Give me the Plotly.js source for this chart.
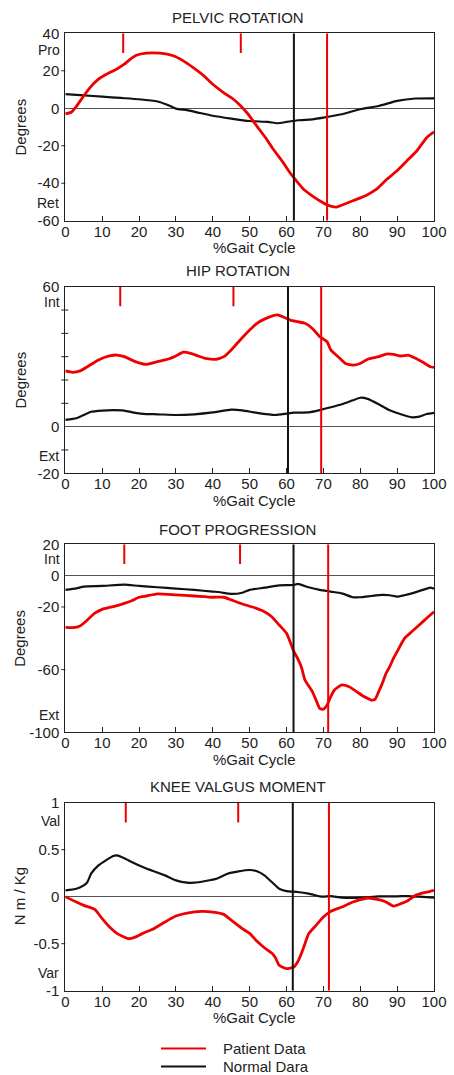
<!DOCTYPE html>
<html>
<head>
<meta charset="utf-8">
<script src="https://cdn.plot.ly/plotly-3.0.1.min.js"></script>
<style>
  html, body { margin: 0; padding: 0; background: #fff; }
  #chart { width: 454px; height: 1075px; }
</style>
</head>
<body>
<div id="chart"></div>
<script>
// ---------- Series names ----------
const seriesNames = ['Patient Data', 'Normal Dara'];
const panelTitles = ['PELVIC ROTATION', 'HIP ROTATION', 'FOOT PROGRESSION', 'KNEE VALGUS MOMENT'];
const yAxisTitles = ['Degrees', 'Degrees', 'Degrees', 'N m / Kg'];
const xAxisTitle = '%Gait Cycle';
const xTickVals = [0, 10, 20, 30, 40, 50, 60, 70, 80, 90, 100];

// ---------- Pelvic rotation ----------
const pelvisPatientX = [0, 1.7, 3, 5, 6.7, 9, 11, 14, 16, 17.5, 19.3, 22, 25.7, 29.3, 32, 34.7, 37.4, 40, 42.9, 45.6, 47.4, 49.6, 51.9, 54.6, 56.4, 59.1, 60.9, 62.7, 64.6, 66.4, 69.1, 71.3, 73.6, 76.3, 79, 81.7, 84.4, 87.2, 89.9, 92.6, 95.3, 98, 100];
const pelvisPatientY = [-3, -2, 1, 6.6, 11, 15.5, 18, 21, 23.5, 26, 28.3, 29.4, 29.4, 28, 25.3, 21.7, 17.6, 12.8, 8.4, 4.8, 1.6, -3.2, -9.4, -16.5, -21.9, -29, -34.3, -38.8, -43.2, -45.9, -49.5, -51.8, -52.7, -50.7, -48.6, -46.4, -43.2, -37.9, -33.5, -28.1, -22.8, -15.7, -12.6];
const pelvisNormalX = [0, 5, 10, 15, 20, 25, 28, 30, 33, 36, 40, 45, 50, 55, 57.5, 60, 63, 67, 70, 75, 80, 85, 90, 95, 100];
const pelvisNormalY = [7.5, 6.9, 6.2, 5.5, 4.8, 3.6, 1.6, -0.2, -1, -2.3, -4, -5.5, -6.8, -7.3, -8, -7.3, -6.4, -5.9, -5, -3.2, -0.5, 1.2, 3.9, 5.2, 5.3];

// ---------- Hip rotation ----------
const hipPatientX = [0, 2, 4, 6, 9, 12, 14, 16, 19, 22, 25, 28, 30, 32, 34, 36, 38, 41, 43, 45, 47, 50, 52, 54, 56, 57.5, 59, 61, 63, 65, 67, 69, 71, 72, 74, 76, 78, 80, 82, 85, 87, 89, 91, 93, 95, 97, 99, 100];
const hipPatientY = [23.9, 23.3, 23.9, 25.7, 28.6, 30.3, 30.7, 30, 27.9, 26.7, 27.9, 29, 30.3, 31.9, 31.4, 30.3, 29.3, 28.9, 30, 32.9, 36.4, 41.4, 44.3, 46.1, 47.4, 47.9, 47.1, 45.7, 45, 44.3, 42.1, 38.6, 36.4, 32.9, 30, 27.1, 26.4, 27.1, 28.9, 30, 31.1, 31, 30.3, 30.7, 29.3, 27.6, 25.7, 25.4];
const hipNormalX = [0, 3, 5, 7, 10, 13, 16, 19, 22, 25, 30, 35, 40, 45, 48, 52, 57, 60, 62, 66, 69, 72, 75, 78, 80, 82, 85, 88, 91, 94, 96, 98, 100];
const hipNormalY = [2.9, 3.6, 5, 6.4, 6.9, 7.1, 6.9, 5.9, 5.4, 5.3, 5, 5.3, 6.1, 7.3, 7, 5.9, 5, 5.6, 6, 6.1, 7.1, 8.3, 9.6, 11.3, 12.4, 11.9, 9.6, 7, 5.3, 4, 4.3, 5.4, 5.9];

// ---------- Foot progression ----------
const footPatientX = [0, 2, 4, 6, 8, 10, 13, 16, 18, 20, 22, 25, 30, 35, 40, 43, 45, 48, 51, 54, 56, 58, 60, 62, 63, 64, 65, 67, 68, 69, 70, 71, 72, 73, 75, 77, 79, 81, 83, 84, 85, 86, 87, 88, 89, 90, 92, 94, 96, 98, 100];
const footPatientY = [-33, -33.2, -32.1, -28.3, -24, -21.5, -19.8, -17.7, -16, -13.8, -13, -11.7, -12.3, -13, -13.8, -13.8, -15.5, -18.1, -20.2, -23, -26.2, -31.5, -36.8, -48.5, -52.8, -58.1, -66.6, -74, -79.4, -84.7, -85.3, -82.6, -77.2, -73, -69.8, -70.9, -74, -77.2, -79.4, -79, -74, -68.7, -62.3, -58.1, -52.8, -48.5, -40, -35.7, -31.5, -27.2, -23];
const footNormalX = [0, 3, 5, 10, 16, 20, 25, 30, 35, 40, 42, 45, 48, 50, 54, 58, 62, 63, 66, 69, 72, 75, 78, 80, 83, 86, 88, 90, 92, 94, 97, 99, 100];
const footNormalY = [-9.1, -8.1, -7, -6.6, -5.7, -6.6, -7.4, -8.3, -9.1, -10.2, -10.6, -11.7, -10.9, -9.1, -7.7, -6.2, -6, -5.3, -7.4, -9.1, -10.2, -11.3, -13.8, -13.8, -13, -12.3, -12.5, -13.4, -12.5, -11.3, -9.1, -7.7, -8.3];

// ---------- Knee valgus moment ----------
const kneePatientX = [0, 3, 5, 8, 10, 12, 14, 17, 19, 21, 24, 27, 30, 33, 37, 40, 43, 45, 48, 50, 52, 54, 56, 57, 58, 60, 62, 63, 64, 65, 66, 68, 70, 72, 75, 78, 80, 82, 85, 87, 89, 91, 93, 95, 97, 99, 100];
const kneePatientY = [0, -0.057, -0.092, -0.135, -0.234, -0.323, -0.39, -0.447, -0.43, -0.39, -0.34, -0.27, -0.206, -0.174, -0.156, -0.163, -0.188, -0.25, -0.34, -0.39, -0.475, -0.543, -0.6, -0.65, -0.73, -0.766, -0.748, -0.695, -0.606, -0.5, -0.394, -0.305, -0.216, -0.156, -0.11, -0.057, -0.032, -0.014, -0.032, -0.057, -0.1, -0.074, -0.04, 0.014, 0.04, 0.057, 0.067];
const kneeNormalX = [0, 3, 5, 6, 7, 9, 11, 13, 14, 16, 18, 21, 24, 27, 30, 33, 35, 38, 41, 44, 47, 50, 52, 54, 56, 58, 60, 63, 66, 69, 70, 72, 75, 80, 85, 90, 93, 96, 100];
const kneeNormalY = [0.067, 0.085, 0.12, 0.156, 0.245, 0.333, 0.387, 0.433, 0.44, 0.41, 0.37, 0.316, 0.27, 0.227, 0.174, 0.149, 0.149, 0.167, 0.191, 0.245, 0.27, 0.284, 0.27, 0.227, 0.156, 0.085, 0.06, 0.05, 0.032, 0.004, 0, 0.007, -0.01, -0.01, 0.004, 0.004, 0.007, 0, -0.01];

// ---------- Gait events (% cycle) per panel ----------
const oppositeFootOff = [15.7, 14.9, 16.0, 16.4];
const oppositeFootContact = [47.6, 45.6, 47.4, 46.9];
const normalToeOff = [62.0, 60.4, 61.9, 61.7];
const patientToeOff = [71.0, 69.4, 71.3, 71.5];

// ---------- Y axis scales, labels and tick marks ----------
const yRanges = [[-60, 40], [-20, 60], [-100, 20], [-1, 1]];
const yTickVals = [[40, 20, 0, -20, -40, -60], [60, 0, -20], [20, 0, -20, -60, -100], [1, 0.5, 0, -0.5, -1]];
const yTickText = [['40', '20', '0', '-20', '-40', '-60'], ['60', '0', '-20'], ['20', '0', '-20', '-60', '-100'], ['1', '0.5', '0', '-0.5', '-1']];
const yTickMarks = [[20, -20, -40], [50, 40, 30, 20, 10, -10], [-20, -60], [0.5, -0.5]];
const directionTop = ['Pro', 'Int', 'Int', 'Val'];
const directionTopAt = [31.1, 53.3, 10.9, 0.81];
const directionBottom = ['Ret', 'Ext', 'Ext', 'Var'];
const directionBottomAt = [-50.7, -12.6, -88.9, -0.815];

const series = [
  [pelvisPatientX, pelvisPatientY, pelvisNormalX, pelvisNormalY],
  [hipPatientX, hipPatientY, hipNormalX, hipNormalY],
  [footPatientX, footPatientY, footNormalX, footNormalY],
  [kneePatientX, kneePatientY, kneeNormalX, kneeNormalY]
];

// ---------- Page geometry (pixels) ----------
const W = 454, H = 1075;
const plotLeft = 65.3, plotRight = 434;
const panelTop = [33.3, 286.7, 544.3, 802.7];
const panelBottom = [220.7, 473.3, 732.3, 990.7];
const px = v => v / W;
const py = v => 1 - v / H;

const RED = 'rgb(238,0,0)';
const BLACK = '#111111';
const FONT = 'Liberation Sans, Arial, sans-serif';

const traces = [];
const shapes = [];
const annotations = [];
const layout = {
  width: W, height: H,
  margin: { l: 0, r: 0, t: 0, b: 0 },
  paper_bgcolor: '#ffffff',
  plot_bgcolor: '#ffffff',
  showlegend: false,
  font: { family: FONT, size: 15, color: '#222222' }
};

for (let i = 0; i < 4; i++) {
  const sfx = i === 0 ? '' : String(i + 1);
  const xa = 'x' + sfx, ya = 'y' + sfx;
  const [px1, py1, px2, py2] = series[i];

  traces.push({
    x: px2, y: py2, xaxis: xa, yaxis: ya, type: 'scatter', mode: 'lines',
    name: seriesNames[1], line: { color: BLACK, width: 2.2, shape: 'spline', smoothing: 0.5 }
  });
  traces.push({
    x: px1, y: py1, xaxis: xa, yaxis: ya, type: 'scatter', mode: 'lines',
    name: seriesNames[0], line: { color: RED, width: 2.8, shape: 'spline', smoothing: 0.5 }
  });

  layout['xaxis' + sfx] = {
    domain: [px(plotLeft), px(plotRight)],
    anchor: ya,
    range: [0, 100],
    tickmode: 'array', tickvals: xTickVals,
    ticks: 'inside', ticklen: 5, tickwidth: 1, tickcolor: '#222',
    ticklabelstandoff: -3,
    showline: true, linecolor: '#222', linewidth: 1, mirror: true,
    showgrid: false, zeroline: false,
    tickfont: { family: FONT, size: 15, color: '#222' },
    fixedrange: true
  };
  layout['yaxis' + sfx] = {
    domain: [py(panelBottom[i]), py(panelTop[i])],
    anchor: xa,
    range: yRanges[i],
    tickmode: 'array', tickvals: yTickVals[i], ticktext: yTickText[i],
    ticks: 'outside', ticklen: 4, tickcolor: 'rgba(0,0,0,0)',
    ticklabelstandoff: -2,
    showline: true, linecolor: '#222', linewidth: 1, mirror: true,
    showgrid: false,
    zeroline: true, zerolinecolor: '#555', zerolinewidth: 1,
    tickfont: { family: FONT, size: 15, color: '#222' },
    fixedrange: true
  };

  // visible y tick marks
  yTickMarks[i].forEach(v => {
    shapes.push({
      type: 'line', xref: 'paper', yref: ya,
      x0: px(plotLeft - 4), x1: px(plotLeft + (i === 1 ? 3 : 0)), y0: v, y1: v,
      line: { color: '#222', width: 1 }
    });
  });

  // gait event lines
  const yr = yRanges[i];
  const shortLen = (yr[1] - yr[0]) * 0.105;
  [oppositeFootOff[i], oppositeFootContact[i]].forEach(v => {
    shapes.push({
      type: 'line', xref: xa, yref: ya,
      x0: v, x1: v, y0: yr[1], y1: yr[1] - shortLen,
      line: { color: RED, width: 2 }
    });
  });
  shapes.push({
    type: 'line', xref: xa, yref: ya,
    x0: normalToeOff[i], x1: normalToeOff[i], y0: yr[0], y1: yr[1],
    line: { color: BLACK, width: 2 }
  });
  shapes.push({
    type: 'line', xref: xa, yref: ya,
    x0: patientToeOff[i], x1: patientToeOff[i], y0: yr[0], y1: yr[1],
    line: { color: RED, width: 2 }
  });

  // panel title
  const titleY = [18, 270.7, 529, 786.7][i];
  annotations.push({
    xref: 'paper', yref: 'paper', x: px(238), y: py(titleY),
    text: panelTitles[i], showarrow: false, xanchor: 'center', yanchor: 'middle',
    font: { family: FONT, size: 15, color: '#222' }
  });

  // y axis title
  annotations.push({
    xref: 'paper', yref: 'paper', x: px(19.5), y: py((panelTop[i] + panelBottom[i]) / 2),
    text: yAxisTitles[i], showarrow: false, textangle: -90,
    xanchor: 'center', yanchor: 'middle',
    font: { family: FONT, size: 15, color: '#222' }
  });

  // x axis title
  annotations.push({
    xref: 'paper', yref: 'paper', x: px(254), y: py(panelBottom[i] + 26.8),
    text: xAxisTitle, showarrow: false, xanchor: 'center', yanchor: 'middle',
    font: { family: FONT, size: 15, color: '#222' }
  });

  // direction labels beside the y axis
  annotations.push({
    xref: 'paper', yref: ya, x: px(62), y: directionTopAt[i],
    text: directionTop[i], showarrow: false, xanchor: 'right', yanchor: 'middle',
    font: { family: FONT, size: 14, color: '#222' }
  });
  annotations.push({
    xref: 'paper', yref: ya, x: px(61), y: directionBottomAt[i],
    text: directionBottom[i], showarrow: false, xanchor: 'right', yanchor: 'middle',
    font: { family: FONT, size: 14, color: '#222' }
  });
}

// legend
const legendColors = [RED, BLACK];
const legendRows = [1048.5, 1066.5];
seriesNames.forEach((name, k) => {
  shapes.push({
    type: 'line', xref: 'paper', yref: 'paper',
    x0: px(161), x1: px(206), y0: py(legendRows[k]), y1: py(legendRows[k]),
    line: { color: legendColors[k], width: 2 }
  });
  annotations.push({
    xref: 'paper', yref: 'paper', x: px(220.5), y: py(legendRows[k]),
    text: name, showarrow: false, xanchor: 'left', yanchor: 'middle',
    font: { family: FONT, size: 15, color: '#222' }
  });
});

layout.shapes = shapes;
layout.annotations = annotations;

Plotly.newPlot('chart', traces, layout, { staticPlot: true, displayModeBar: false });
</script>
</body>
</html>
